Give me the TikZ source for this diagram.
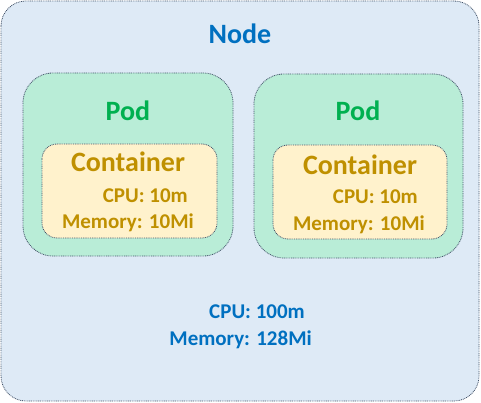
\documentclass[tikz,border=0pt]{standalone}
\usepackage{fontspec}
\setmainfont{Carlito}
\definecolor{nodefill}{RGB}{222,234,246}
\definecolor{podfill}{RGB}{185,237,215}
\definecolor{contfill}{RGB}{255,242,204}
\definecolor{edgecol}{RGB}{68,84,106}
\definecolor{nodetext}{RGB}{0,112,192}
\definecolor{podtext}{RGB}{0,176,80}
\definecolor{conttext}{RGB}{191,144,0}
\tikzset{
  boxedge/.style={draw=edgecol, line width=0.8pt, dash pattern=on 0.9pt off 0.9pt},
  bigtxt/.style={font=\fontsize{28}{34}\selectfont\bfseries, inner sep=0pt},
  smalltxt/.style={font=\fontsize{21}{25}\selectfont\bfseries, inner sep=0pt},
}
\begin{document}
\begin{tikzpicture}[x=1pt,y=-1pt]
\useasboundingbox (0,0) rectangle (481,403);
% Node box
\draw[boxedge, fill=nodefill, rounded corners=25pt] (1,1) rectangle (479,401);
% Pods
\draw[boxedge, fill=podfill, rounded corners=30pt] (23,73) rectangle (233,256);
\draw[boxedge, fill=podfill, rounded corners=30pt] (254,74) rectangle (463,258);
% Containers
\draw[boxedge, fill=contfill, rounded corners=15pt] (42,144) rectangle (217,238);
\draw[boxedge, fill=contfill, rounded corners=15pt] (273,145) rectangle (447,239);
% Texts
\node[bigtxt, text=nodetext, anchor=base] (nodelbl) at (240,44) {Node};
\node[bigtxt, text=podtext, anchor=base] (pod1lbl) at (128,121) {Pod};
\node[bigtxt, text=podtext, anchor=base] (pod2lbl) at (358,121) {Pod};
\node[bigtxt, text=conttext, anchor=base] (c1lbl) at (128,172) {Container};
\node[bigtxt, text=conttext, anchor=base] (c2lbl) at (360,175) {Container};
\node[smalltxt, text=conttext, anchor=base east] (c1cpu) at (188,203) {CPU: 10m};
\node[smalltxt, text=conttext, anchor=base east] (c1mem) at (194,228) {Memory: 10Mi};
\node[smalltxt, text=conttext, anchor=base east] (c2cpu) at (418,204) {CPU: 10m};
\node[smalltxt, text=conttext, anchor=base east] (c2mem) at (425,230) {Memory: 10Mi};
\node[smalltxt, text=nodetext, anchor=base east] (ncpu) at (305,318) {CPU: 100m};
\node[smalltxt, text=nodetext, anchor=base east] (nmem) at (312,345) {Memory: 128Mi};
\end{tikzpicture}
\end{document}
